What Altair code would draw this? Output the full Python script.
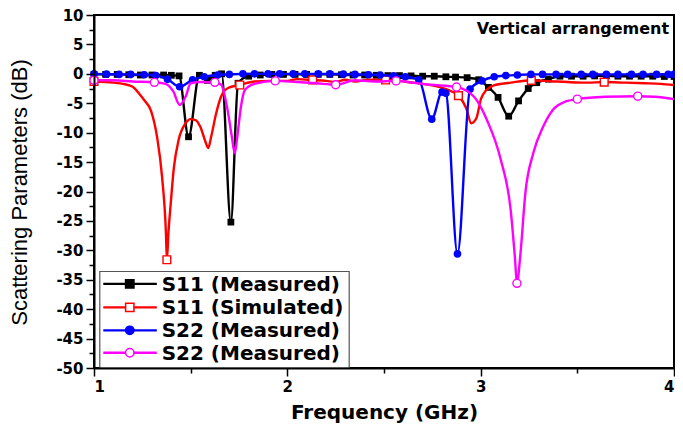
import altair as alt
import pandas as pd

# ---------------- data ----------------
s11_meas_f = [1.00, 1.06, 1.12, 1.18, 1.24, 1.30, 1.36, 1.40, 1.44, 1.489,
              1.545, 1.586, 1.627, 1.66, 1.708, 1.745, 1.80, 1.86, 1.92, 1.98,
              2.04, 2.10, 2.16, 2.22, 2.28, 2.34, 2.40, 2.46, 2.52, 2.58,
              2.64, 2.70, 2.76, 2.82, 2.87, 2.93, 2.99, 3.04, 3.09, 3.145,
              3.196, 3.246, 3.29, 3.35, 3.41, 3.47, 3.53, 3.59, 3.65, 3.71,
              3.77, 3.83, 3.89, 3.95, 4.00]
s11_meas_db = [-0.1, -0.1, -0.1, -0.15, -0.2, -0.2, -0.2, -0.25, -0.35, -10.7,
               -0.25, -1.1, -0.25, 0.0, -25.2, -1.6, -0.4, -0.2, -0.1, -0.1,
               -0.1, -0.1, -0.1, -0.1, -0.15, -0.2, -0.2, -0.25, -0.3, -0.3,
               -0.35, -0.4, -0.4, -0.5, -0.55, -0.65, -1.0, -2.3, -4.0, -7.2,
               -4.6, -2.5, -1.5, -0.9, -0.4, -0.4, -0.4, -0.35, -0.35, -0.4,
               -0.4, -0.4, -0.4, -0.45, -0.45]

s11_sim_f = [1.00, 1.10, 1.15, 1.20, 1.234, 1.26, 1.295, 1.326, 1.352, 1.372,
             1.377, 1.385, 1.397, 1.413, 1.438, 1.474, 1.499, 1.525, 1.55, 1.576,
             1.591, 1.606, 1.632, 1.657, 1.693, 1.754, 1.83, 1.91, 2.00, 2.05,
             2.131, 2.20, 2.25, 2.30, 2.35, 2.42, 2.508, 2.58, 2.65, 2.70,
             2.75, 2.813, 2.85, 2.885, 2.926, 2.951, 2.977, 3.002, 3.028, 3.068,
             3.155, 3.262, 3.36, 3.45, 3.55, 3.639, 3.75, 3.85, 3.93, 4.00]
s11_sim_db = [-1.3, -1.5, -1.7, -2.2, -3.4, -4.5, -6.3, -10.7, -17.5, -27.0,
              -31.6, -27.0, -22.0, -16.0, -11.2, -8.4, -7.7, -7.85, -9.0, -11.5,
              -12.6, -10.7, -6.7, -3.9, -2.4, -1.9, -1.3, -1.2, -1.2, -0.9,
              -1.05, -1.2, -1.4, -1.0, -1.3, -1.0, -1.05, -1.2, -1.5, -1.7,
              -1.95, -2.5, -3.0, -3.7, -5.9, -8.4, -7.6, -4.2, -2.8, -1.95,
              -1.5, -1.1, -1.25, -1.4, -1.5, -1.4, -1.5, -1.6, -1.7, -1.9]
s11_sim_markers = [1.0, 1.377, 1.754, 2.131, 2.508, 2.885, 3.262, 3.639]

s22_meas_f = [1.00, 1.065, 1.13, 1.19, 1.26, 1.32, 1.38, 1.443, 1.51, 1.57,
              1.64, 1.70, 1.77, 1.83, 1.90, 1.96, 2.03, 2.09, 2.16, 2.22,
              2.29, 2.35, 2.42, 2.48, 2.55, 2.61, 2.68, 2.747, 2.80, 2.82,
              2.88, 2.945, 3.007, 3.07, 3.13, 3.19, 3.26, 3.32, 3.39, 3.45,
              3.52, 3.58, 3.65, 3.71, 3.78, 3.84, 3.91, 3.97, 4.00]
s22_meas_db = [0.0, -0.05, -0.1, -0.1, -0.15, -0.3, -0.9, -2.2, -1.0, -0.5,
               -0.2, -0.1, 0.0, 0.0, 0.0, 0.0, 0.0, 0.0, 0.0, 0.0,
               -0.05, -0.1, -0.15, -0.2, -0.35, -0.5, -1.0, -7.7, -3.1, -3.3,
               -30.6, -2.6, -1.2, -0.5, -0.3, -0.2, -0.1, -0.1, -0.1, -0.1,
               -0.1, -0.1, -0.1, -0.1, -0.1, -0.1, -0.1, -0.1, -0.1]

s22_b_f = [1.00, 1.10, 1.20, 1.3125, 1.37, 1.41, 1.443, 1.475, 1.50, 1.55,
           1.625, 1.657, 1.69, 1.713, 1.728, 1.74, 1.76, 1.78, 1.83, 1.9375,
           2.05, 2.15, 2.25, 2.35, 2.45, 2.5625, 2.65, 2.74, 2.875, 2.966,
           3.033, 3.104, 3.155, 3.178, 3.1875, 3.206, 3.231, 3.272, 3.323, 3.374,
           3.44, 3.50, 3.644, 3.8125, 3.90, 4.00]
s22_b_db = [-1.1, -1.1, -1.3, -1.45, -1.7, -3.0, -5.3, -3.8, -1.6, -1.4,
            -1.45, -1.8, -6.0, -10.7, -13.5, -11.0, -5.6, -2.75, -1.7, -1.2,
            -1.4, -1.6, -1.85, -1.1, -1.3, -1.2, -1.5, -1.85, -2.25, -3.9,
            -7.9, -14.6, -23.1, -31.6, -35.6, -30.5, -20.3, -13.5, -9.0, -6.1,
            -4.7, -4.3, -3.9, -3.8, -3.9, -4.3]
s22_b_markers = [1.0, 1.3125, 1.625, 1.9375, 2.25, 2.5625, 2.875, 3.1875, 3.5, 3.8125]

legend_labels = ["S11 (Measured)", "S11 (Simulated)", "S22 (Measured)", "S22 (Measured)"]
legend_colors = ["#000000", "#FF0000", "#0000FF", "#FF00FF"]
legend_shapes = ["square", "square", "circle", "circle"]
legend_fills = ["#000000", "#FFFFFF", "#0000FF", "#FFFFFF"]
legend_rows_db = [-35.7, -39.7, -43.6, -47.4]

annotation = "Vertical arrangement"

# ---------------- encodings ----------------
BOLD = "DejaVu Sans"

x_axis = alt.Axis(
    values=[1, 1.5, 2, 2.5, 3, 3.5, 4],
    labelExpr="datum.value % 1 === 0 ? '' + datum.value : ''",
    tickSize={"condition": {"test": "datum.value % 1 === 0", "value": 8}, "value": 5},
    tickWidth=1.5, tickColor="black", domainColor="black", domainWidth=2,
    labelFont=BOLD, labelFontWeight="bold", labelFontSize=15, labelColor="black",
    labelPadding=3, grid=False, zindex=2,
    title="Frequency (GHz)", titleFont=BOLD, titleFontWeight="bold", titleFontSize=20,
    titleColor="black", titleY=44, titleBaseline="middle",
)
y_axis = alt.Axis(
    values=[v / 2 for v in range(-100, 21, 5)],
    labelExpr="datum.value % 5 === 0 ? '' + datum.value : ''",
    tickSize={"condition": {"test": "datum.value % 5 === 0", "value": 8}, "value": 5},
    tickWidth=1.5, tickColor="black", domainColor="black", domainWidth=2,
    labelFont=BOLD, labelFontWeight="bold", labelFontSize=15, labelColor="black",
    labelPadding=3, grid=False, zindex=2,
    title="Scattering Parameters (dB)", titleFont="Liberation Sans", titleFontWeight="normal",
    titleFontSize=22, titleColor="black", titleAngle=270, titleX=-75, titleY=177,
    titleAlign="center", titleBaseline="middle",
)
xs = alt.Scale(domain=[1, 4], nice=False, zero=False)
ys = alt.Scale(domain=[-50, 10], nice=False, zero=False)
X = alt.X("f:Q", scale=xs, axis=x_axis)
Y = alt.Y("db:Q", scale=ys, axis=y_axis)


def series(f, db, color, shape, filled, markers=None, size=55):
    df = pd.DataFrame({"f": f, "db": db})
    line = alt.Chart(df).mark_line(color=color, strokeWidth=2.4, interpolate="monotone").encode(x=X, y=Y)
    mdf = df if markers is None else df[df["f"].isin(markers)]
    if filled:
        pts = alt.Chart(mdf).mark_point(shape=shape, filled=True, color=color, size=size, opacity=1)
    else:
        pts = alt.Chart(mdf).mark_point(shape=shape, filled=True, fill="white", stroke=color,
                                        strokeWidth=1.4, size=size, opacity=1)
    return [line, pts.encode(x=X, y=Y)]


layers = []
layers += series(s11_meas_f, s11_meas_db, "#000000", "square", True, size=46)
layers += series(s11_sim_f, s11_sim_db, "#FF0000", "square", False, s11_sim_markers, size=60)
layers += series(s22_meas_f, s22_meas_db, "#0000FF", "circle", True, size=58)
layers += series(s22_b_f, s22_b_db, "#FF00FF", "circle", False, s22_b_markers, size=65)

# legend box (in data coordinates)
box = pd.DataFrame({"f": [1.03], "f2": [2.32], "db": [-33.6], "db2": [-50.0]})
layers.append(alt.Chart(box).mark_rect(fill="white", stroke="#555555", strokeWidth=1.2).encode(
    x=X, x2="f2:Q", y=Y, y2="db2:Q"))

leg = pd.DataFrame({
    "label": legend_labels, "color": legend_colors, "shape": legend_shapes,
    "fill": legend_fills, "db": legend_rows_db,
    "f": [1.048] * 4, "f2": [1.325] * 4, "fm": [1.185] * 4, "ft": [1.35] * 4,
})
layers.append(alt.Chart(leg).mark_rule(strokeWidth=2.4).encode(
    x=X, x2="f2:Q", y=Y, color=alt.Color("color:N", scale=None)))
layers.append(alt.Chart(leg).mark_point(filled=True, size=70, strokeWidth=1.5, opacity=1).encode(
    x=alt.X("fm:Q", scale=xs, axis=x_axis), y=Y,
    shape=alt.Shape("shape:N", scale=None),
    fill=alt.Fill("fill:N", scale=None),
    stroke=alt.Stroke("color:N", scale=None)))
layers.append(alt.Chart(leg).mark_text(align="left", baseline="middle", font=BOLD, fontWeight="bold",
                                       fontSize=20, color="black", dy=1).encode(
    x=alt.X("ft:Q", scale=xs, axis=x_axis), y=Y, text="label:N"))

ann = pd.DataFrame({"f": [3.975], "db": [7.6], "t": [annotation]})
layers.append(alt.Chart(ann).mark_text(align="right", baseline="middle", font=BOLD, fontWeight="bold",
                                       fontSize=16, color="black").encode(x=X, y=Y, text="t:N"))

chart = alt.layer(*layers).properties(
    width=580, height=353,
    autosize=alt.AutoSizeParams(type="none"),
    padding={"left": 86, "top": 7, "right": 1, "bottom": 56},
    background="white",
).configure_view(stroke="black", strokeWidth=2)

chart.save("out.html", embed_options={"renderer": "svg", "actions": False})
